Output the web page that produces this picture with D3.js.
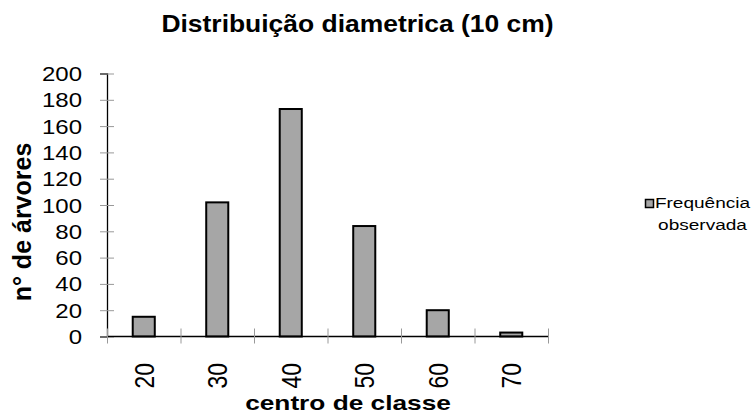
<!DOCTYPE html>
<html>
<head>
<meta charset="utf-8">
<script src="https://cdn.jsdelivr.net/npm/d3@7"></script>
<style>
  body { margin: 0; background: #fff; }
  svg { display: block; }
  text { font-family: "Liberation Sans", Arial, sans-serif; fill: #000; }
</style>
</head>
<body>
<div id="chart"></div>
<script>
// data
const classes = ["20", "30", "40", "50", "60", "70"];
const frequencies = [15, 102, 173, 84, 20, 3];
const yTicks = [0, 20, 40, 60, 80, 100, 120, 140, 160, 180, 200];
const legendLines = ["Frequência", "observada"];

const width = 754, height = 414;
const margin = { top: 73.5, right: 206, bottom: 77.5, left: 107 };
const innerWidth = width - margin.left - margin.right;
const innerHeight = height - margin.top - margin.bottom;

// the original picture is a bit wider than tall, so text gets stretched sideways
const stretch = 1.2;

const svg = d3.select("#chart")
    .append("svg")
    .attr("width", width)
    .attr("height", height);

const chart = svg.append("g")
    .attr("transform", `translate(${margin.left}, ${margin.top})`);

// scales
const xScale = d3.scaleBand()
    .domain(classes)
    .range([0, innerWidth])
    .paddingInner(0.7)
    .paddingOuter(0.35);

const xTickScale = d3.scaleLinear()
    .domain([0, classes.length])
    .range([0, innerWidth]);

const yScale = d3.scaleLinear()
    .domain([0, 200])
    .range([innerHeight, 0]);

// y axis
const yAxis = chart.append("g")
    .attr("class", "y-axis")
    .call(d3.axisLeft(yScale).tickValues(yTicks).tickSize(7));
yAxis.select(".domain").attr("stroke", "#000").attr("stroke-width", 1.3);
yAxis.selectAll(".tick line")
    .attr("x1", -7).attr("x2", 7)
    .attr("stroke", "#999");
yAxis.selectAll(".tick text")
    .attr("x", null)
    .attr("dy", null)
    .attr("text-anchor", "end")
    .attr("transform", `translate(-25, 7) scale(${stretch}, 1)`)
    .style("font-size", "20px")
    .style("font-family", "'Liberation Sans', Arial, sans-serif")
    .attr("fill", "#000");

// bars
chart.selectAll(".bar")
    .data(frequencies)
    .enter().append("rect")
    .attr("class", "bar")
    .attr("x", (d, i) => xScale(classes[i]))
    .attr("y", d => yScale(d))
    .attr("width", xScale.bandwidth())
    .attr("height", d => innerHeight - yScale(d))
    .attr("fill", "#a6a6a6")
    .attr("stroke", "#000")
    .attr("stroke-width", 2);

// x axis (category boundaries as ticks)
const xAxis = chart.append("g")
    .attr("class", "x-axis")
    .attr("transform", `translate(0, ${innerHeight})`)
    .call(d3.axisBottom(xTickScale).ticks(classes.length).tickSize(7).tickFormat(""));
xAxis.select(".domain").attr("d", `M0,0H${innerWidth}`).attr("stroke", "#000").attr("stroke-width", 1.3);
xAxis.selectAll(".tick line")
    .attr("y1", -8).attr("y2", 7)
    .attr("stroke", "#999");

// x category labels, rotated
chart.selectAll(".x-label-cat")
    .data(classes)
    .enter().append("text")
    .attr("class", "x-label-cat")
    .attr("text-anchor", "end")
    .attr("transform", d => `translate(${xScale(d) + xScale.bandwidth() / 2 + 10}, ${innerHeight + 26.5}) scale(${stretch}, 1) rotate(-90)`)
    .style("font-size", "23px")
    .text(d => d);

// title
svg.append("text")
    .attr("text-anchor", "middle")
    .attr("transform", "translate(357.5, 32) scale(1.15, 1)")
    .style("font-size", "23px")
    .style("font-weight", "bold")
    .text("Distribuição diametrica (10 cm)");

// x axis label
svg.append("text")
    .attr("text-anchor", "middle")
    .attr("transform", "translate(348, 410) scale(1.25, 1)")
    .style("font-size", "21px")
    .style("font-weight", "bold")
    .text("centro de classe");

// y axis label
svg.append("text")
    .attr("text-anchor", "middle")
    .attr("transform", "translate(31, 222) rotate(-90)")
    .style("font-size", "25px")
    .style("font-weight", "bold")
    .text("n° de árvores");

// legend
const legend = svg.append("g").attr("class", "legend");
legend.append("rect")
    .attr("x", 645.5)
    .attr("y", 199.5)
    .attr("width", 8)
    .attr("height", 8)
    .attr("fill", "#a6a6a6")
    .attr("stroke", "#000")
    .attr("stroke-width", 1.5);
legend.selectAll("text")
    .data(legendLines)
    .enter().append("text")
    .attr("text-anchor", "middle")
    .attr("transform", (d, i) => `translate(702.5, ${208 + i * 22}) scale(1.27, 1)`)
    .style("font-size", "15px")
    .text(d => d);
</script>
</body>
</html>
